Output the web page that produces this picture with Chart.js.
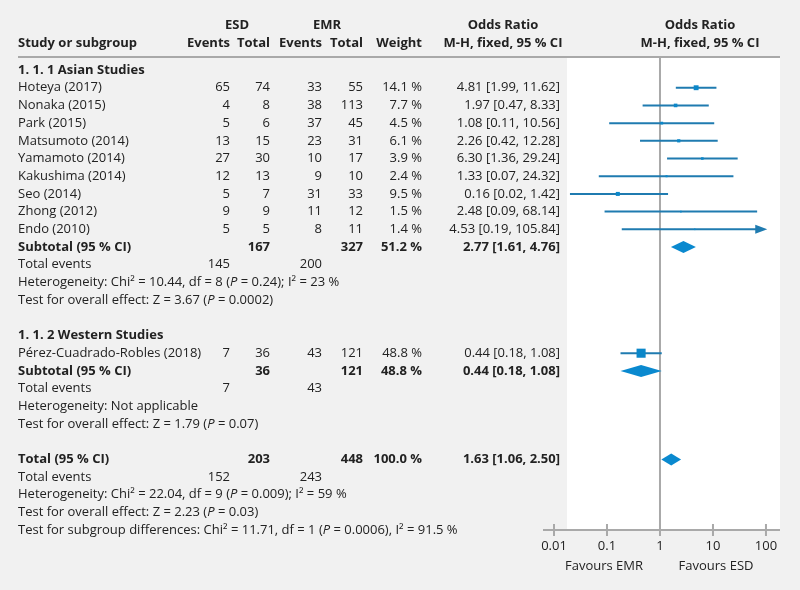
<!DOCTYPE html>
<html>
<head>
<meta charset="utf-8">
<script src="https://cdn.jsdelivr.net/npm/chart.js@4.4.1/dist/chart.umd.min.js"></script>
<style>
html, body { margin: 0; padding: 0; background: #f1f1f1; }
#wrap { width: 800px; height: 590px; position: relative; }
</style>
</head>
<body>
<div id="wrap"><canvas id="forest"></canvas></div>
<script>
// Individual studies (ESD vs EMR)
const studies = ["Hoteya (2017)", "Nonaka (2015)", "Park (2015)", "Matsumoto (2014)", "Yamamoto (2014)",
  "Kakushima (2014)", "Seo (2014)", "Zhong (2012)", "Endo (2010)", "Pérez-Cuadrado-Robles (2018)"];
const studyRows = [1, 2, 3, 4, 5, 6, 7, 8, 9, 16];
const esdEvents = [65, 4, 5, 13, 27, 12, 5, 9, 5, 7];
const esdTotal = [74, 8, 6, 15, 30, 13, 7, 9, 5, 36];
const emrEvents = [33, 38, 37, 23, 10, 9, 31, 11, 8, 43];
const emrTotal = [55, 113, 45, 31, 17, 10, 33, 12, 11, 121];
const weights = [14.1, 7.7, 4.5, 6.1, 3.9, 2.4, 9.5, 1.5, 1.4, 48.8];
const oddsRatio = [4.81, 1.97, 1.08, 2.26, 6.30, 1.33, 0.16, 2.48, 4.53, 0.44];
const ciLow = [1.99, 0.47, 0.11, 0.42, 1.36, 0.07, 0.02, 0.09, 0.19, 0.18];
const ciHigh = [11.62, 8.33, 10.56, 12.28, 29.24, 24.32, 1.42, 68.14, 105.84, 1.08];

// Pooled results (two subgroups + overall)
const pooledLabels = ["Subtotal (95 % CI)", "Subtotal (95 % CI)", "Total (95 % CI)"];
const pooledRows = [10, 17, 22];
const pooledEsdTotal = [167, 36, 203];
const pooledEmrTotal = [327, 121, 448];
const pooledEsdEvents = [145, 7, 152];
const pooledEmrEvents = [200, 43, 243];
const pooledWeight = [51.2, 48.8, 100.0];
const pooledOR = [2.77, 0.44, 1.63];
const pooledLow = [1.61, 0.18, 1.06];
const pooledHigh = [4.76, 1.08, 2.50];

// Group headings and footnotes (|P| = italic P)
const groupHeads = [[0, "1. 1. 1 Asian Studies"], [15, "1. 1. 2 Western Studies"]];
const notes = [
  [12, "Heterogeneity: Chi² = 10.44, df = 8 (|P| = 0.24); I² = 23 %"],
  [13, "Test for overall effect: Z = 3.67 (|P| = 0.0002)"],
  [19, "Heterogeneity: Not applicable"],
  [20, "Test for overall effect: Z = 1.79 (|P| = 0.07)"],
  [24, "Heterogeneity: Chi² = 22.04, df = 9 (|P| = 0.009); I² = 59 %"],
  [25, "Test for overall effect: Z = 2.23 (|P| = 0.03)"],
  [26, "Test for subgroup differences: Chi² = 11.71, df = 1 (|P| = 0.0006), I² = 91.5 %"]
];

const tickValues = [0.01, 0.1, 1, 10, 100];
const tickLabels = ["0.01", "0.1", "1", "10", "100"];

const FONT = '"Open Sans", sans-serif';
const TEXT = '#222';
const LINE_BLUE = '#1f7bb0';
const MARK_BLUE = '#0b87c9';
const col = { name: 18, esdEv: 230, esdTot: 270, emrEv: 322, emrTot: 363, weight: 422, or: 560 };

function fmtCI(o, l, h) {
  return o.toFixed(2) + " [" + l.toFixed(2) + ", " + h.toFixed(2) + "]";
}

function put(ctx, s, px, py, align, bold) {
  ctx.font = (bold ? 'bold ' : '') + '13px ' + FONT;
  ctx.textAlign = align || 'left';
  ctx.fillText(String(s), px, py);
}

function putRich(ctx, s, px, py) {
  ctx.textAlign = 'left';
  let cx = px;
  s.split('|').forEach((part, i) => {
    ctx.font = (i % 2 ? 'italic ' : '') + '13px ' + FONT;
    ctx.fillText(part, cx, py);
    cx += ctx.measureText(part).width;
  });
}

const forestPlugin = {
  id: 'forest',
  beforeDraw(chart) {
    const { ctx, chartArea: a, scales: { x } } = chart;
    ctx.save();
    ctx.fillStyle = '#f1f1f1';
    ctx.fillRect(0, 0, chart.width, chart.height);
    ctx.fillStyle = '#ffffff';
    ctx.fillRect(567, a.top, a.right - 567, a.bottom - a.top);
    ctx.fillStyle = '#a9a9a9';
    ctx.fillRect(18, a.top - 2, a.right - 18, 2);
    const x1 = x.getPixelForValue(1);
    ctx.fillRect(x1 - 1, a.top, 2, a.bottom - a.top);
    ctx.restore();
  },
  beforeDatasetsDraw(chart) {
    const { ctx, scales: { x, y } } = chart;
    const axisMax = tickValues[tickValues.length - 1];
    ctx.save();
    ctx.strokeStyle = LINE_BLUE;
    ctx.fillStyle = LINE_BLUE;
    ctx.lineWidth = 2;
    studies.forEach((s, i) => {
      const py = y.getPixelForValue(studyRows[i]);
      const x0 = x.getPixelForValue(ciLow[i]);
      const x2 = x.getPixelForValue(ciHigh[i]);
      const arrow = ciHigh[i] > axisMax;
      ctx.beginPath();
      ctx.moveTo(x0, py);
      ctx.lineTo(arrow ? x2 - 10 : x2, py);
      ctx.stroke();
      if (arrow) {
        ctx.beginPath();
        ctx.moveTo(x2, py);
        ctx.lineTo(x2 - 12, py - 4.5);
        ctx.lineTo(x2 - 12, py + 4.5);
        ctx.closePath();
        ctx.fill();
      }
    });
    // pooled diamonds
    ctx.fillStyle = '#0a89cf';
    pooledRows.forEach((r, i) => {
      const py = y.getPixelForValue(r);
      ctx.beginPath();
      ctx.moveTo(x.getPixelForValue(pooledLow[i]), py);
      ctx.lineTo(x.getPixelForValue(pooledOR[i]), py - 6);
      ctx.lineTo(x.getPixelForValue(pooledHigh[i]), py);
      ctx.lineTo(x.getPixelForValue(pooledOR[i]), py + 6);
      ctx.closePath();
      ctx.fill();
    });
    ctx.restore();
  },
  afterDraw(chart) {
    const { ctx, chartArea: a, scales: { x, y } } = chart;
    ctx.save();
    // axis
    ctx.fillStyle = '#a9a9a9';
    ctx.fillRect(a.left, a.bottom - 1, a.right - a.left, 2);
    tickValues.forEach(v => {
      ctx.fillRect(x.getPixelForValue(v) - 1, a.bottom - 6, 2, 12);
    });
    ctx.fillStyle = TEXT;
    ctx.textBaseline = 'middle';
    tickValues.forEach((v, i) => put(ctx, tickLabels[i], x.getPixelForValue(v), a.bottom + 16, 'center'));
    put(ctx, "Favours EMR", 604, a.bottom + 36, 'center');
    put(ctx, "Favours ESD", 716, a.bottom + 36, 'center');

    // column headers
    const h1 = y.getPixelForValue(-2.54), h2 = y.getPixelForValue(-1.52);
    put(ctx, "ESD", 237, h1, 'center', true);
    put(ctx, "EMR", 327, h1, 'center', true);
    put(ctx, "Odds Ratio", 503, h1, 'center', true);
    put(ctx, "Odds Ratio", 700, h1, 'center', true);
    put(ctx, "Study or subgroup", col.name, h2, 'left', true);
    put(ctx, "Events", col.esdEv, h2, 'right', true);
    put(ctx, "Total", col.esdTot, h2, 'right', true);
    put(ctx, "Events", col.emrEv, h2, 'right', true);
    put(ctx, "Total", col.emrTot, h2, 'right', true);
    put(ctx, "Weight", col.weight, h2, 'right', true);
    put(ctx, "M-H, fixed, 95 % CI", 503, h2, 'center', true);
    put(ctx, "M-H, fixed, 95 % CI", 700, h2, 'center', true);

    groupHeads.forEach(([r, s]) => put(ctx, s, col.name, y.getPixelForValue(r), 'left', true));

    studies.forEach((s, i) => {
      const py = y.getPixelForValue(studyRows[i]);
      put(ctx, s, col.name, py);
      put(ctx, esdEvents[i], col.esdEv, py, 'right');
      put(ctx, esdTotal[i], col.esdTot, py, 'right');
      put(ctx, emrEvents[i], col.emrEv, py, 'right');
      put(ctx, emrTotal[i], col.emrTot, py, 'right');
      put(ctx, weights[i].toFixed(1) + " %", col.weight, py, 'right');
      put(ctx, fmtCI(oddsRatio[i], ciLow[i], ciHigh[i]), col.or, py, 'right');
    });

    pooledRows.forEach((r, i) => {
      const py = y.getPixelForValue(r);
      put(ctx, pooledLabels[i], col.name, py, 'left', true);
      put(ctx, pooledEsdTotal[i], col.esdTot, py, 'right', true);
      put(ctx, pooledEmrTotal[i], col.emrTot, py, 'right', true);
      put(ctx, pooledWeight[i].toFixed(1) + " %", col.weight, py, 'right', true);
      put(ctx, fmtCI(pooledOR[i], pooledLow[i], pooledHigh[i]), col.or, py, 'right', true);
      const pe = y.getPixelForValue(r + 1);
      put(ctx, "Total events", col.name, pe);
      put(ctx, pooledEsdEvents[i], col.esdEv, pe, 'right');
      put(ctx, pooledEmrEvents[i], col.emrEv, pe, 'right');
    });

    notes.forEach(([r, s]) => putRich(ctx, s, col.name, y.getPixelForValue(r)));
    ctx.restore();
  }
};

const squareData = studies.map((s, i) => ({ x: oddsRatio[i], y: studyRows[i] }));
// square side grows with sqrt(weight); Chart.js rect side = sqrt(2) * radius
const squareRadius = weights.map(w => 1.3 * Math.sqrt(w) / Math.SQRT2);

new Chart(document.getElementById("forest"), {
  type: "scatter",
  data: {
    datasets: [{
      data: squareData,
      pointStyle: "rect",
      pointRadius: squareRadius,
      pointHoverRadius: squareRadius,
      backgroundColor: MARK_BLUE,
      borderWidth: 0
    }]
  },
  options: {
    responsive: true,
    maintainAspectRatio: false,
    animation: false,
    events: [],
    layout: { padding: { left: 543, right: 20, top: 58, bottom: 60 } },
    plugins: { legend: { display: false }, tooltip: { enabled: false } },
    scales: {
      x: { type: "logarithmic", display: false, bounds: "data", min: 0.0062, max: 184 },
      y: { type: "linear", display: false, bounds: "data", reverse: true, min: -0.68, max: 25.99 }
    }
  },
  plugins: [forestPlugin]
});
</script>
</body>
</html>
